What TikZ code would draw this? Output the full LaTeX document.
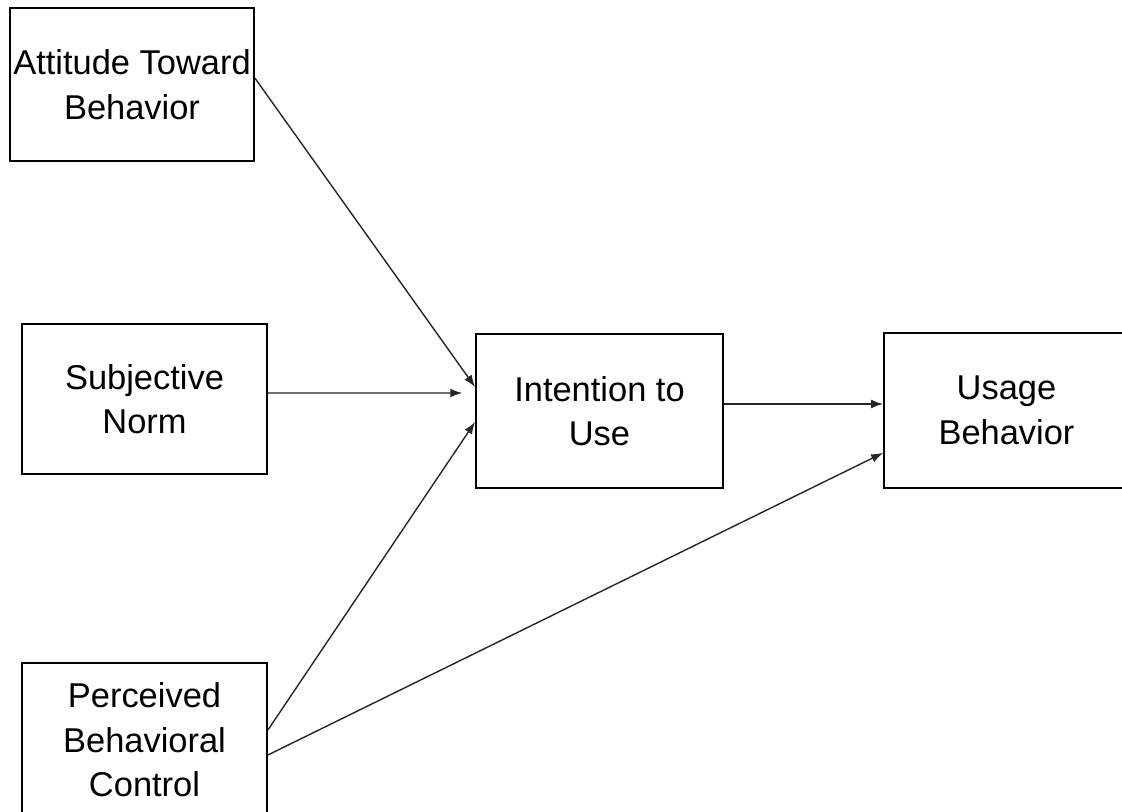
\documentclass[tikz,border=0pt]{standalone}
\usepackage{fontspec}
\setmainfont{Liberation Sans}
\usetikzlibrary{arrows.meta, positioning, calc}

\begin{document}
\begin{tikzpicture}[
  >={Latex[length=3mm,width=2.2mm]},
  font=\fontsize{24.5}{31.6}\selectfont,
  tpbbox/.style={
    draw=black, line width=1.3pt, fill=white,
    minimum width=6.125cm, minimum height=3.8cm,
    inner sep=0pt, align=center
  },
  arr/.style={->, line width=1pt, draw=black!85}
]

\useasboundingbox (0,0) rectangle (28.05,-20.3);

\begin{scope}
\clip (0,0) rectangle (28.05,-20.3);

\node[tpbbox, minimum width=6.1cm, minimum height=3.825cm] (att) at (3.30,-2.1125)
  {Attitude Toward\\Behavior};
\node[tpbbox, minimum height=3.75cm] (subj) at (3.6125,-9.975)
  {Subjective\\Norm};
\node[tpbbox, minimum height=3.85cm] (pbc) at (3.6125,-18.5)
  {Perceived\\Behavioral\\Control};

\node[tpbbox, minimum width=6.175cm, minimum height=3.85cm] (intent) at (14.9875,-10.275)
  {Intention to\\Use};
\node[tpbbox, minimum height=3.875cm] (usage) at (25.1625,-10.2625)
  {Usage\\Behavior};

\draw[arr] ([yshift=0.16cm]att.east) -- ([yshift=0.6cm]intent.west);
\draw[arr] ([yshift=0.15cm]subj.east) -- ([xshift=-0.32cm,yshift=0.45cm]intent.west);
\draw[arr] ([yshift=0.25cm]pbc.east) -- ([yshift=-0.275cm]intent.west);
\draw[arr] ([yshift=-0.375cm]pbc.east) -- ([yshift=-1.06cm]usage.west);

\draw[arr] ([yshift=0.175cm]intent.east) -- ([yshift=0.1625cm]usage.west);
\end{scope}

\end{tikzpicture}
\end{document}
